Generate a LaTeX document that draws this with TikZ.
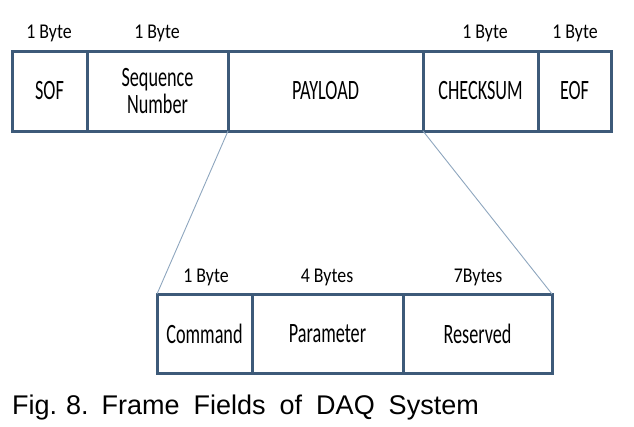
\documentclass[tikz,border=0pt]{standalone}
\usepackage{fontspec}
\setmainfont{Liberation Sans}
\newfontfamily\boxfont[FakeStretch=0.65]{Carlito}
\newfontfamily\labfont[FakeStretch=0.85]{Carlito}
\newfontfamily\capfont{Liberation Sans}
\definecolor{frameblue}{HTML}{3D5A79}
\definecolor{linkblue}{HTML}{8EA6BE}
\newcommand{\lowtxt}[1]{\raisebox{-3pt}{#1}}
\begin{document}
\begin{tikzpicture}[x=1pt,y=-1pt,
  field/.style={draw=frameblue,line width=3pt,outer sep=0pt,inner sep=0pt,
    minimum height=80pt,align=center,font=\boxfont\fontsize{28}{27}\selectfont},
  bytelabel/.style={font=\labfont\fontsize{21}{22}\selectfont,inner sep=0pt,anchor=base},
  link/.style={draw=linkblue,line width=0.9pt}]
\useasboundingbox (0,0) rectangle (634,426);
% top frame
\node[field,minimum width=75pt]  (sof)  at (49.5,91) {\lowtxt{SOF}};
\node[field,minimum width=141pt] (seq)  at (157.5,91) {Sequence\\Number};
\node[field,minimum width=195pt] (pay)  at (325.5,91) {\lowtxt{PAYLOAD}};
\node[field,minimum width=115pt] (chk)  at (480.5,91) {\lowtxt{CHECKSUM}};
\node[field,minimum width=73pt]  (eof)  at (574.5,91) {\lowtxt{EOF}};
% bottom frame
\node[field,minimum width=95pt,minimum height=79pt]  (cmd) at (204.5,333.5) {\lowtxt{Command}};
\node[field,minimum width=151pt,minimum height=79pt] (par) at (327.5,333.5) {\lowtxt{Parameter}};
\node[field,minimum width=149pt,minimum height=79pt] (res) at (477.5,333.5) {\lowtxt{Reserved}};
% byte labels
\node[bytelabel] (l1) at (49,38) {1 Byte};
\node[bytelabel] (l2) at (157,38) {1 Byte};
\node[bytelabel] (l3) at (485,38) {1 Byte};
\node[bytelabel] (l4) at (575,38) {1 Byte};
\node[bytelabel] (l5) at (206,282) {1 Byte};
\node[bytelabel] (l6) at (327,282) {4 Bytes};
\node[bytelabel] (l7) at (478,282) {7Bytes};
% zoom lines
\draw[link] (pay.south west) -- (cmd.north west);
\draw[link] (pay.south east) -- (res.north east);
% caption
\node[anchor=base west,inner sep=0pt,font=\capfont\fontsize{27}{28}\selectfont] (cap) at (12,414)
  {Fig.\hspace{9pt}8.\hspace{13pt}Frame\hspace{14pt}Fields\hspace{14pt}of\hspace{14pt}DAQ\hspace{14pt}System};
\end{tikzpicture}
\end{document}
